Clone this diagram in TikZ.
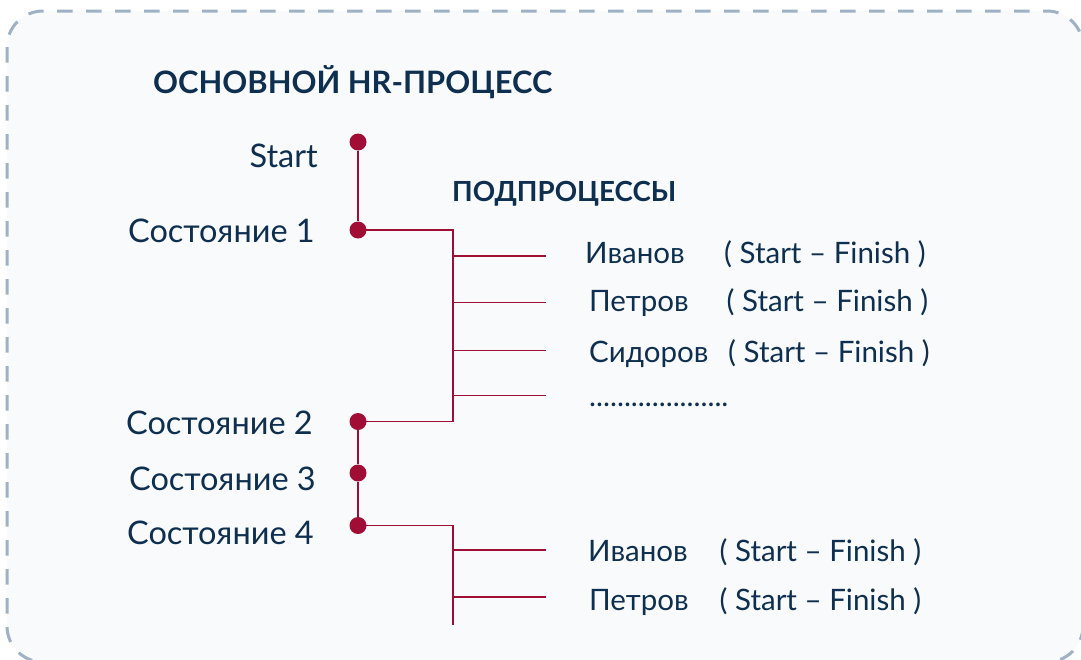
\documentclass[tikz,border=0pt]{standalone}
\usepackage{fontspec}
\setmainfont{Lato}
\definecolor{navy}{HTML}{0E2F50}
\definecolor{crim}{HTML}{A00E36}
\definecolor{bgfill}{HTML}{F9FAFC}
\definecolor{dashc}{HTML}{9EB1C5}
\tikzset{
  dotn/.style={circle,fill=crim,inner sep=0pt,minimum size=17pt},
  conn/.style={draw=crim,line width=1.6pt},
  mainlbl/.style={anchor=base east,inner sep=0pt,text=navy,font=\fontsize{32.5}{32.5}\selectfont},
  sublbl/.style={anchor=base west,inner sep=0pt,text=navy,font=\fontsize{29.5}{29.5}\selectfont},
  headlbl/.style={anchor=base west,inner sep=0pt,text=navy,font=\bfseries\fontsize{30.9}{30.9}\selectfont},
  subhead/.style={anchor=base west,inner sep=0pt,text=navy,font=\bfseries\fontsize{27.7}{27.7}\selectfont}
}
\begin{document}
\begin{tikzpicture}[x=1pt,y=-1pt]
\useasboundingbox (0,0) rectangle (1081,659);
\clip (0,0) rectangle (1081,659);
\fill[white] (0,0) rectangle (1081,659);
\draw[fill=bgfill,draw=dashc,line width=3pt,dash pattern=on 15.5pt off 13.5pt,rounded corners=36pt] (7,11) rectangle (1083,662);

% headings
\node[headlbl] (title) at (153,93) {ОСНОВНОЙ HR-ПРОЦЕСС};
\node[subhead] (subt) at (452,201) {ПОДПРОЦЕССЫ};

% main dots
\node[dotn] (d0) at (358,142) {};
\node[dotn] (d1) at (358,230) {};
\node[dotn] (d2) at (358,421.5) {};
\node[dotn] (d3) at (358,473) {};
\node[dotn] (d4) at (358,525.5) {};

% main labels
\node[mainlbl] (l0) at (318,167) {Start};
\node[mainlbl] (l1) at (315,242) {Состояние 1};
\node[mainlbl] (l2) at (313,434) {Состояние 2};
\node[mainlbl] (l3) at (316,490) {Состояние 3};
\node[mainlbl] (l4) at (314,544) {Состояние 4};

% main axis
\draw[draw=crim,line width=2pt] (d0) -- (d1);
\draw[draw=crim,line width=2pt] (d2) -- (d3) -- (d4);

% branch group 1
\coordinate (j1a) at (453,230);
\coordinate (j1b) at (453,421.5);
\draw[conn] (d1.center) -- (j1a) -- (j1b) -- (d2.center);
\foreach \i/\yy in {1/256,2/302.5,3/350.5,4/395.5}{
  \coordinate (a\i) at (453,\yy);
  \coordinate (e\i) at (546,\yy);
  \draw[conn] (a\i) -- (e\i);
}
\node[sublbl] (n1) at (585,263) {Иванов};
\node[sublbl] (p1) at (724,263) {( Start – Finish )};
\node[sublbl] (n2) at (589,311) {Петров};
\node[sublbl] (p2) at (726.5,311) {( Start – Finish )};
\node[sublbl] (n3) at (589,362) {Сидоров};
\node[sublbl] (p3) at (728,362) {( Start – Finish )};
\node[sublbl] (n4) at (589,406) {....................};

% branch group 2
\coordinate (j2a) at (453,525.5);
\coordinate (j2b) at (453,625);
\draw[conn] (d4.center) -- (j2a) -- (j2b);
\foreach \i/\yy in {5/550,6/597}{
  \coordinate (a\i) at (453,\yy);
  \coordinate (e\i) at (546,\yy);
  \draw[conn] (a\i) -- (e\i);
}
\node[sublbl] (n5) at (588,561.5) {Иванов};
\node[sublbl] (p5) at (719.5,561.5) {( Start – Finish )};
\node[sublbl] (n6) at (589,610) {Петров};
\node[sublbl] (p6) at (719.5,610) {( Start – Finish )};
\end{tikzpicture}
\end{document}
